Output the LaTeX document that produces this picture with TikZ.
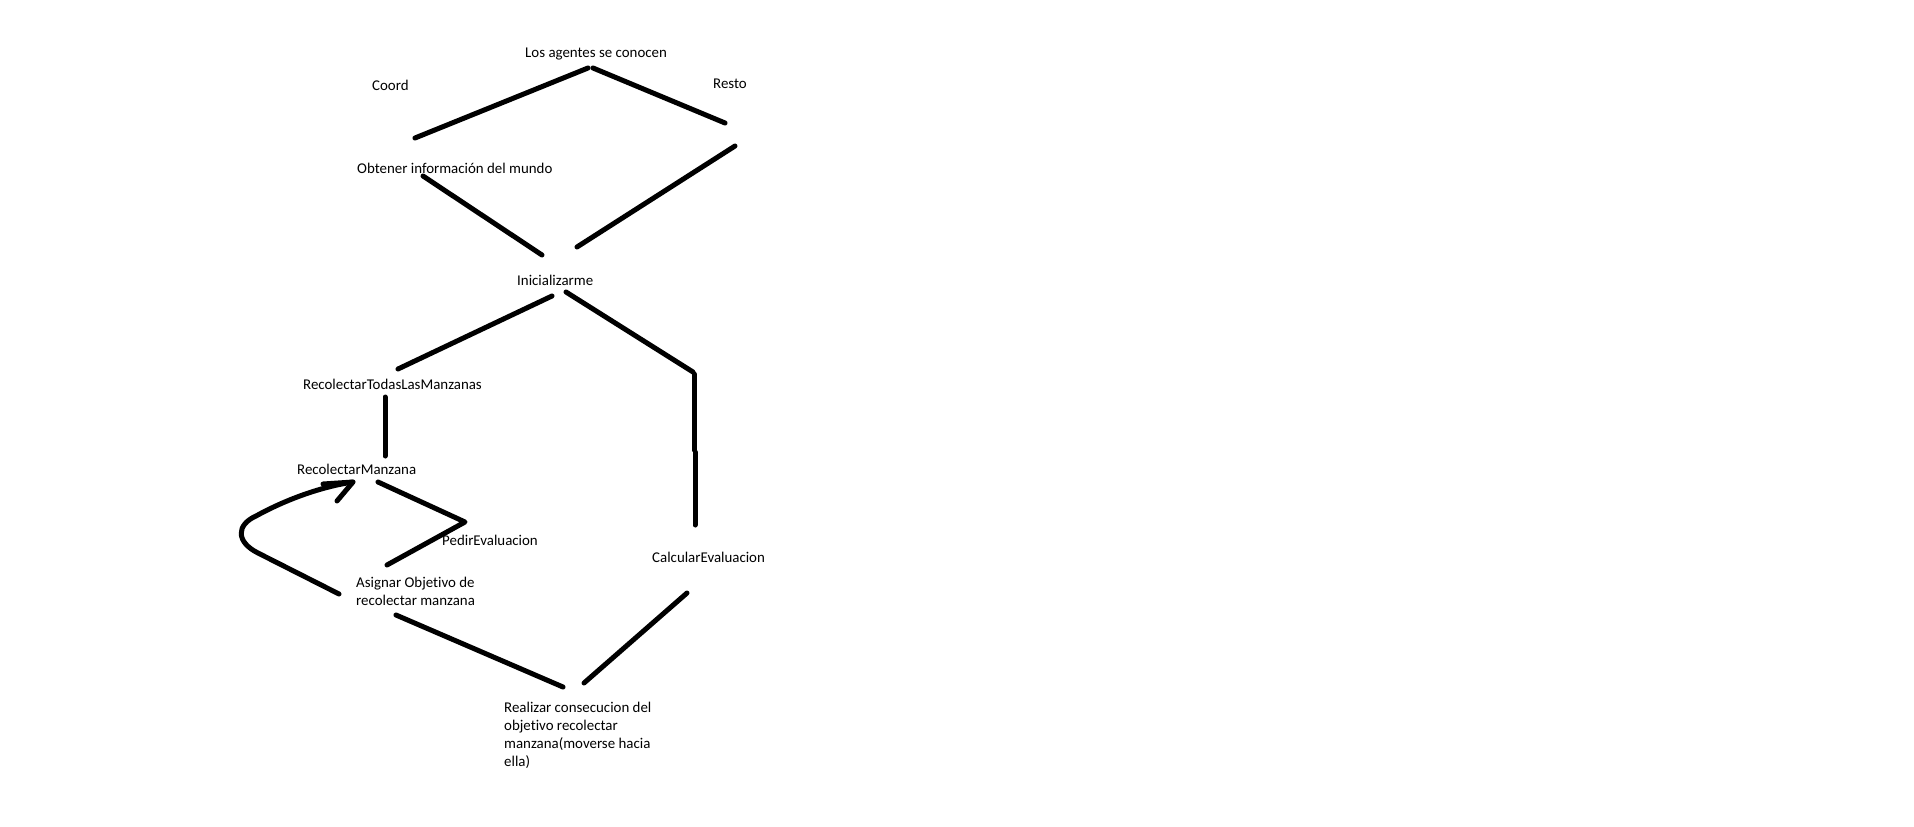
\documentclass[tikz,border=0pt]{standalone}
\usepackage{fontspec}
\setmainfont{Carlito}[Ligatures={NoCommon,NoContextual}]
\begin{document}
\begin{tikzpicture}[x=1pt,y=-1pt,
  stroke/.style={line width=5pt, line cap=round, line join=round},
  lbl/.style={inner sep=0pt, anchor=base west, font=\fontsize{14.9}{18}\selectfont},
  mlbl/.style={inner sep=0pt, anchor=north west, align=left, font=\fontsize{14.9}{18}\selectfont}]
\fill[white] (0,0) rectangle (1914,827);
\useasboundingbox (0,0) rectangle (1914,827);
% labels
\node[lbl] (agentes) at (525,57) {Los agentes se conocen};
\node[lbl] (coord) at (372,90) {Coord};
\node[lbl] (resto) at (713,88) {Resto};
\node[lbl] (obtener) at (357,173) {Obtener información del mundo};
\node[lbl] (inic) at (517,285) {Inicializarme};
\node[lbl] (todas) at (303,389) {RecolectarTodasLasManzanas};
\node[lbl] (manz) at (297,474) {RecolectarManzana};
\node[lbl] (pedir) at (442,545) {PedirEvaluacion};
\node[lbl] (calc) at (652,562) {CalcularEvaluacion};
\node[mlbl] (asig) at (356,576.5) {Asignar Objetivo de\\recolectar manzana};
\node[mlbl] (real) at (504,701.5) {Realizar consecucion del\\objetivo recolectar\\manzana(moverse hacia\\ella)};
% stroke end points
\coordinate (a1) at (415,138); \coordinate (a2) at (588,68);
\coordinate (b1) at (593,68);  \coordinate (b2) at (725,123);
\coordinate (c1) at (735,146); \coordinate (c2) at (577,247);
\coordinate (d1) at (423,176); \coordinate (d2) at (542,255);
\coordinate (e1) at (552,296); \coordinate (e2) at (398,369);
\coordinate (f1) at (566,292); \coordinate (f2) at (693,372);
\coordinate (g1) at (694,374); \coordinate (g2) at (694,450);
\coordinate (g3) at (695,452); \coordinate (g4) at (695,525);
\coordinate (h1) at (385,397); \coordinate (h2) at (385,456);
\coordinate (i1) at (378,482); \coordinate (i2) at (465,522); \coordinate (i3) at (387,565);
\coordinate (j1) at (396,615); \coordinate (j2) at (563,687);
\coordinate (k1) at (584,683); \coordinate (k2) at (687,593);
\coordinate (l0) at (339,594); \coordinate (l1) at (258,553); \coordinate (l2) at (256,516);
\coordinate (tip) at (353,482); \coordinate (arm1) at (323,484); \coordinate (arm2) at (337,501);
% strokes
\draw[stroke] (a1) -- (a2);
\draw[stroke] (b1) -- (b2);
\draw[stroke] (c1) -- (c2);
\draw[stroke] (d1) -- (d2);
\draw[stroke] (e1) -- (e2);
\draw[stroke] (f1) -- (f2);
\draw[stroke] (g1) -- (g2);
\draw[stroke] (g3) -- (g4);
\draw[stroke] (h1) -- (h2);
\draw[stroke] (i1) -- (i2) -- (i3);
\draw[stroke] (j1) -- (j2);
\draw[stroke] (k1) -- (k2);
\draw[stroke] (l0) -- (l1) .. controls (236,542) and (236,525) .. (l2) .. controls (285,500) and (320,487) .. (tip);
\draw[stroke] (arm1) -- (tip) -- (arm2);
\end{tikzpicture}
\end{document}
